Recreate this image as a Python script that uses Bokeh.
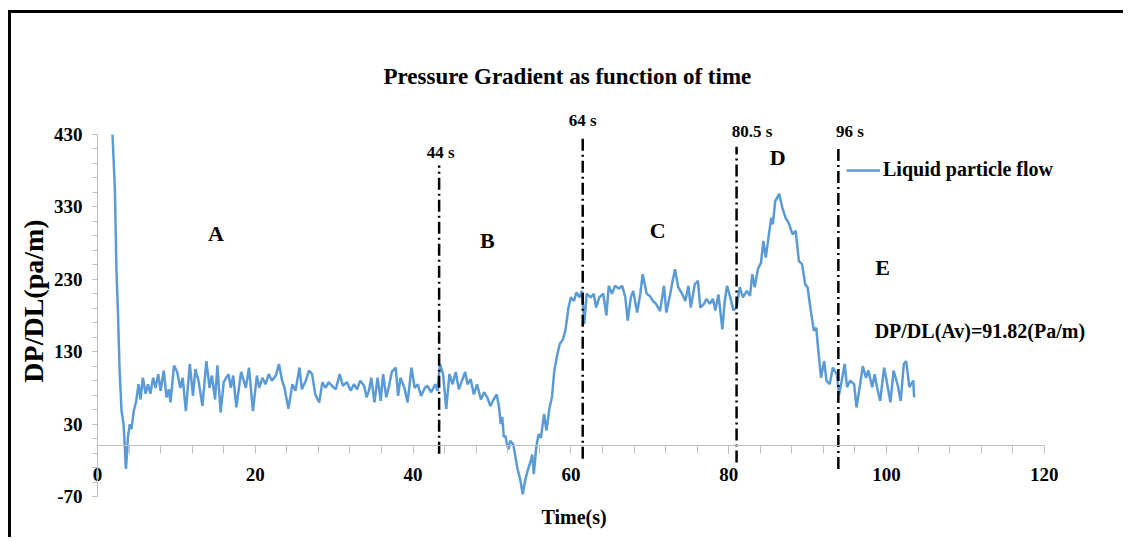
from bokeh.plotting import figure
from bokeh.models import Range1d, FixedTicker, LinearAxis, Title, ColumnDataSource
from bokeh.core.properties import value
from bokeh.embed import file_html
from bokeh.resources import INLINE

# ---------------- data ----------------
time_s = [1.9, 2.2, 2.4, 2.6, 2.8, 3.05, 3.3, 3.45, 3.6, 3.75, 3.85, 4.1, 4.3, 4.6, 4.9, 5.2, 5.45, 5.75,
          6.1, 6.4, 6.7, 7.05, 7.35, 7.7, 8.0, 8.4, 8.75, 9.05, 9.25, 9.7, 10.1, 10.5, 10.8, 11.2, 11.7,
          12.1, 12.4, 12.8, 13.3, 13.8, 14.2, 14.5, 14.9, 15.2, 15.6, 16.0, 16.6, 16.9, 17.2, 17.6, 18.2,
          18.8, 19.2, 19.7, 20.2, 20.5, 20.9, 21.3, 21.7, 22.1, 22.6, 23.0, 23.4, 23.7, 24.2, 24.7, 25.1,
          25.6, 25.9, 26.4, 26.8, 27.2, 27.6, 28.1, 28.5, 28.9, 29.3, 29.7, 30.2, 30.7, 31.1, 31.6, 32.1,
          32.5, 32.9, 33.3, 33.8, 34.1, 34.4, 34.7, 35.1, 35.5, 35.9, 36.2, 36.6, 36.9, 37.3, 37.8, 38.1,
          38.4, 38.9, 39.3, 39.8, 40.2, 40.6, 41.0, 41.5, 41.8, 42.3, 42.8, 43.1, 43.4, 43.8, 44.2, 44.6,
          45.0, 45.4, 45.8, 46.2, 46.6, 46.9, 47.3, 47.7, 48.1, 48.6, 49.0, 49.4, 49.8, 50.2, 50.6, 50.9,
          51.1, 51.3, 51.5, 51.7, 51.9, 52.1, 52.3, 52.7, 53.2, 53.6, 53.9, 54.2, 54.5, 54.9, 55.1, 55.3,
          55.6, 55.9, 56.2, 56.6, 56.9, 57.3, 57.6, 57.9, 58.3, 58.6, 59.0, 59.3, 59.7, 60.0, 60.4, 60.7,
          61.1, 61.4, 61.7, 62.0, 62.5, 62.9, 63.2, 63.6, 64.1, 64.5, 64.8, 65.2, 65.6, 66.1, 66.5, 66.9,
          67.2, 67.6, 67.9, 68.4, 68.8, 69.1, 69.6, 70.0, 70.4, 70.8, 71.3, 71.8, 72.1, 72.6, 72.9, 73.2,
          73.6, 74.1, 74.5, 74.9, 75.2, 75.7, 76.1, 76.4, 76.8, 77.2, 77.6, 78.0, 78.3, 78.7, 79.2, 79.5,
          79.8, 80.2, 80.6, 81.0, 81.4, 81.8, 82.3, 82.7, 83.0, 83.3, 83.7, 84.1, 84.4, 84.7, 85.1, 85.4,
          85.6, 85.9, 86.4, 86.8, 87.2, 87.6, 88.1, 88.5, 88.9, 89.3, 89.7, 90.0, 90.4, 90.8, 91.1, 91.4,
          91.7, 92.1, 92.4, 92.8, 93.2, 93.7, 94.0, 94.4, 94.7, 95.0, 95.4, 95.9, 96.2, 96.6, 97.0, 97.4,
          97.7, 98.2, 98.5, 98.8, 99.2, 99.7, 100.1, 100.5, 100.9, 101.4, 101.8, 102.2, 102.5, 102.9,
          103.4, 103.5]
dpdl = [430, 356, 242, 182, 104, 48, 30, 0, -32, -10, 12, 30, 23, 48, 62, 85, 64, 94,
        72, 85, 72, 94, 80, 99, 76, 104, 67, 78, 60, 111, 102, 80, 94, 48, 113,
        69, 106, 90, 55, 117, 80, 97, 64, 111, 46, 88, 99, 80, 97, 53, 102,
        80, 108, 48, 97, 80, 94, 85, 99, 90, 97, 113, 90, 80, 51, 85, 76,
        108, 78, 90, 104, 99, 71, 60, 88, 80, 88, 83, 78, 99, 83, 88, 76,
        85, 78, 90, 83, 67, 76, 94, 60, 94, 62, 99, 67, 80, 102, 108, 69,
        94, 80, 60, 108, 80, 85, 69, 80, 83, 74, 85, 76, 113, 99, 51, 99,
        85, 102, 78, 90, 102, 85, 92, 71, 85, 64, 74, 67, 55, 64, 71, 53,
        30, 40, 12, 14, 2, -5, 7, 2, -30, -48, -67, -48, -35, -21, -12, -39,
        -3, 16, 11, 44, 21, 53, 67, 104, 127, 141, 147, 159, 191, 205, 200, 212,
        205, 214, 168, 210, 205, 210, 191, 205, 210, 180, 221, 210, 221, 217, 221, 205,
        173, 205, 214, 184, 210, 237, 210, 207, 200, 196, 186, 221, 184, 210, 228, 244,
        219, 210, 200, 221, 191, 223, 228, 191, 195, 203, 196, 203, 187, 209, 161, 200,
        221, 205, 187, 191, 219, 205, 214, 207, 237, 219, 244, 253, 283, 260, 292, 315,
        306, 338, 348, 329, 315, 308, 292, 297, 255, 251, 223, 219, 187, 159, 163, 127,
        94, 117, 90, 85, 108, 99, 71, 94, 113, 81, 90, 85, 53, 81, 110, 94,
        104, 81, 99, 81, 62, 108, 85, 60, 104, 85, 62, 113, 117, 81,
        90, 67]

boundary_time = [43.3, 61.5, 81.0, 93.9]
boundary_labels = ["44 s", "64 s", "80.5 s", "96 s"]
region_labels = ["A", "B", "C", "D", "E"]
average_label = "DP/DL(Av)=91.82(Pa/m)"
series_name = "Liquid particle flow"
y_ticks = [-70, 30, 130, 230, 330, 430]
x_ticks = [0, 20, 40, 60, 80, 100, 120]

# ---------------- layout / style ----------------
FONT = "Liberation Serif"
BLUE = "#5b9bd5"
GRAY = "#bfbfbf"

# vertical extent of each boundary line (layout)
seg_top = [387, 428, 413, 413]
seg_bottom = [-11, -18, -23, -32]
# label placement (layout)
bl_x = [43.5, 61.5, 80.4, 93.6]
bl_y = [405, 449, 434, 434]
bl_align = ["center", "center", "left", "left"]
rl_x = [15.0, 49.4, 71.0, 86.2, 99.5]
rl_y = [293, 283, 297, 398, 246]

p = figure(width=1115, height=527, x_range=Range1d(0, 127), y_range=Range1d(-70, 470),
           output_backend="svg", toolbar_location=None, x_axis_location=None,
           min_border_left=86, min_border_right=27, min_border_top=92, min_border_bottom=44,
           margin=(10, 0, 0, 8))
p.styles = {"border-top": "3px solid black", "border-left": "3px solid black"}
p.outline_line_color = None
p.xgrid.visible = False
p.ygrid.visible = False
p.background_fill_color = "white"
p.border_fill_color = "white"

# title
p.title.text = "Pressure Gradient as function of time"
p.title.align = "left"
p.title.offset = 286
p.title.text_font = FONT
p.title.text_font_size = "23px"
p.title.text_font_style = "bold"
p.title.text_color = "black"
p.title.standoff = 33

# y axis
ya = p.yaxis[0]
ya.ticker = FixedTicker(ticks=y_ticks, minor_ticks=list(range(-70, 431, 20)))
ya.bounds = (-70, 430)
ya.major_label_overrides = {-70: "-70"}
ya.axis_line_color = GRAY
ya.major_tick_line_color = GRAY
ya.minor_tick_line_color = GRAY
ya.major_tick_out = 5
ya.major_tick_in = 0
ya.minor_tick_out = 5
ya.minor_tick_in = 0
ya.major_label_standoff = 10
ya.major_label_text_font = FONT
ya.major_label_text_font_size = "19px"
ya.major_label_text_font_style = "bold"
ya.major_label_text_color = "black"
ya.axis_label = "DP/DL(pa/m)"
ya.axis_label_text_font = FONT
ya.axis_label_text_font_size = "28px"
ya.axis_label_text_font_style = "bold"
ya.axis_label_text_color = "black"
ya.axis_label_standoff = 2

# x axis line and ticks drawn at y = 0
xa = LinearAxis(fixed_location=0)
xa.ticker = FixedTicker(ticks=x_ticks, minor_ticks=list(range(0, 121, 4)))
xa.bounds = (0, 120)
xa.axis_line_color = GRAY
xa.major_tick_line_color = GRAY
xa.minor_tick_line_color = GRAY
xa.major_tick_out = 8
xa.major_tick_in = 0
xa.minor_tick_out = 8
xa.minor_tick_in = 0
xa.major_label_text_alpha = 0
p.add_layout(xa, "below")

# x tick labels placed low, as in the reference
xl = LinearAxis()
xl.ticker = FixedTicker(ticks=x_ticks)
xl.bounds = (0, 120)
xl.axis_line_color = None
xl.major_tick_line_color = None
xl.minor_tick_line_color = None
xl.major_tick_out = 0
xl.major_tick_in = 0
xl.major_label_standoff = -29
xl.major_label_text_font = FONT
xl.major_label_text_font_size = "19px"
xl.major_label_text_font_style = "bold"
xl.major_label_text_color = "black"
p.add_layout(xl, "below")

p.add_layout(Title(text="Time(s)", align="left", text_font=FONT, text_font_size="20px",
                   text_font_style="bold", text_color="black", standoff=14, offset=444), "below")

# series
src = ColumnDataSource(dict(t=time_s, v=dpdl))
p.line("t", "v", source=src, line_color=BLUE, line_width=2.5, legend_label=series_name)

# boundaries
bsrc = ColumnDataSource(dict(x=boundary_time, top=seg_top, bottom=seg_bottom))
p.segment(x0="x", y0="bottom", x1="x", y1="top", source=bsrc, line_color="black",
          line_width=2.5, line_dash="12 4 2 4")

lsrc = ColumnDataSource(dict(x=bl_x, y=bl_y, text=boundary_labels, align=bl_align))
p.text(x="x", y="y", text="text", source=lsrc, text_font=value(FONT), text_font_size="17px",
       text_font_style="bold", text_align="align", text_baseline="middle", text_color="black")

rsrc = ColumnDataSource(dict(x=rl_x, y=rl_y, text=region_labels))
p.text(x="x", y="y", text="text", source=rsrc, text_font=value(FONT), text_font_size="22px",
       text_font_style="bold", text_align="center", text_baseline="middle", text_color="black")

p.text(x=[98.5], y=[158], text=[average_label], text_font=value(FONT), text_font_size="20px",
       text_font_style="bold", text_align="left", text_baseline="middle", text_color="black")

# legend
lg = p.legend[0]
lg.location = (749, 315)
lg.glyph_width = 34
lg.glyph_height = 20
lg.label_standoff = 3
lg.padding = 0
lg.margin = 0
lg.spacing = 0
lg.border_line_alpha = 0
lg.background_fill_alpha = 0
lg.label_text_font = FONT
lg.label_text_font_size = "20px"
lg.label_text_font_style = "bold"
lg.label_text_color = "black"

open("out.html", "w").write(file_html(p, INLINE))
